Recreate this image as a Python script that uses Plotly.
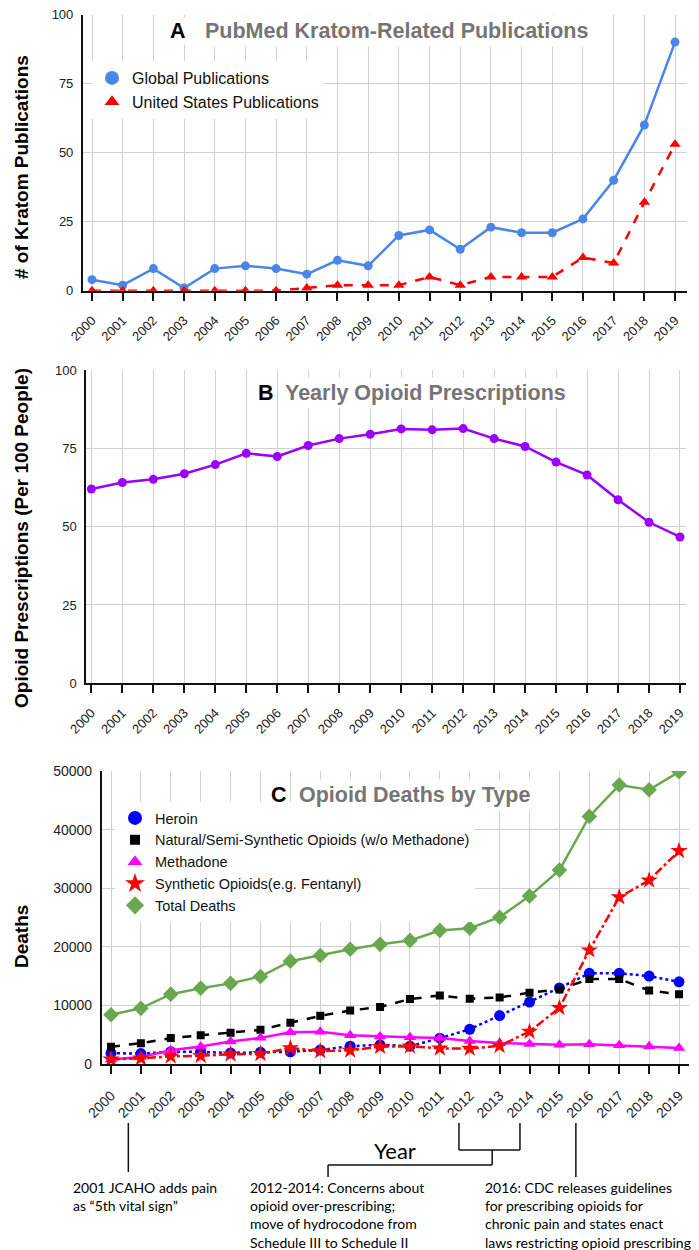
import plotly.graph_objects as go

# --- data ---
years = list(range(2000, 2020))
year_labels = [str(y) for y in years]

# A: PubMed kratom publications
global_pubs = [4, 2, 8, 1, 8, 9, 8, 6, 11, 9, 20, 22, 15, 23, 21, 21, 26, 40, 60, 90]
us_pubs = [0, 0, 0, 0, 0, 0, 0, 1, 2, 2, 2, 5, 2, 5, 5, 5, 12, 10, 32, 53]

# B: opioid prescriptions per 100 people
rx_rate = [62.0, 64.1, 65.1, 66.9, 69.8, 73.4, 72.4, 75.9, 78.1, 79.5,
           81.2, 80.9, 81.3, 78.1, 75.6, 70.6, 66.5, 58.6, 51.4, 46.7]

# C: opioid deaths by type
heroin = [1840, 1780, 2090, 2080, 1880, 2010, 2090, 2400, 3040, 3280,
          3040, 4400, 5930, 8260, 10570, 12990, 15470, 15480, 15000, 14020]
natural = [2950, 3550, 4420, 4900, 5340, 5840, 7040, 8220, 9120, 9740,
           11090, 11690, 11140, 11350, 12160, 12730, 14490, 14500, 12550, 11890]
methadone = [780, 1190, 2360, 2970, 3850, 4460, 5410, 5520, 4920, 4700,
             4580, 4420, 3930, 3590, 3400, 3300, 3370, 3190, 3020, 2740]
synthetic = [780, 960, 1300, 1400, 1660, 1740, 2710, 2210, 2310, 2950,
             3010, 2670, 2630, 3110, 5540, 9580, 19410, 28470, 31340, 36360]
total = [8410, 9500, 11920, 12940, 13760, 14920, 17550, 18520, 19580, 20420,
         21090, 22780, 23170, 25050, 28650, 33090, 42250, 47600, 46800, 49860]

# page body has an 8px margin, so the figure is a bit smaller than the window
OFF = 8
W, H = 699 - OFF, 1250 - OFF
FONT = "Liberation Sans, Arial, sans-serif"
NOTE_FONT = "Lato, Open Sans, sans-serif"
GRID = '#d0d0d0'


def px(x):
    # window pixel -> paper x
    return (x - OFF) / W


def py(y):
    # window pixel -> paper y
    return 1 - (y - OFF) / H


fig = go.Figure()

# --- A ---
fig.add_trace(go.Scatter(x=years, y=global_pubs, mode='lines+markers', showlegend=False,
                         line=dict(color='#4a86e8', width=2.5),
                         marker=dict(color='#4a86e8', size=9), xaxis='x', yaxis='y'))
fig.add_trace(go.Scatter(x=years, y=us_pubs, mode='lines+markers', showlegend=False,
                         line=dict(color='#ff0000', width=2.5, dash='dash'),
                         marker=dict(color='#ff0000', size=10, symbol='triangle-up'),
                         xaxis='x', yaxis='y'))
# legend-only entries (markers without line)
fig.add_trace(go.Scatter(x=[None], y=[None], mode='markers', name='Global Publications',
                         marker=dict(color='#4a86e8', size=14), legend='legend',
                         xaxis='x', yaxis='y'))
fig.add_trace(go.Scatter(x=[None], y=[None], mode='markers', name='United States Publications',
                         marker=dict(color='#ff0000', size=13, symbol='triangle-up'),
                         legend='legend', xaxis='x', yaxis='y'))

# --- B ---
fig.add_trace(go.Scatter(x=years, y=rx_rate, mode='lines+markers', showlegend=False,
                         line=dict(color='#9900ff', width=2.5),
                         marker=dict(color='#9900ff', size=9), xaxis='x2', yaxis='y2'))

# --- C ---
c_series = [
    ('Heroin', heroin, '#0000ff', 'dot', 'circle', 11, 14),
    ('Natural/Semi-Synthetic Opioids (w/o Methadone)', natural, '#000000', 'dash', 'square', 8, 10),
    ('Methadone', methadone, '#ff00ff', 'solid', 'triangle-up', 11, 13),
    ('Synthetic Opioids(e.g. Fentanyl)', synthetic, '#ff0000', 'dashdot', 'star', 13, 15),
    ('Total Deaths', total, '#6aa84f', 'solid', 'diamond', 12, 14),
]
for name, vals, col, dash, sym, size, lsize in c_series:
    fig.add_trace(go.Scatter(x=years, y=vals, mode='lines+markers', showlegend=False,
                             line=dict(color=col, width=2.5, dash=dash),
                             marker=dict(color=col, size=size, symbol=sym),
                             xaxis='x3', yaxis='y3'))
for name, vals, col, dash, sym, size, lsize in c_series:
    fig.add_trace(go.Scatter(x=[None], y=[None], mode='markers', name=name,
                             marker=dict(color=col, size=lsize, symbol=sym),
                             legend='legend2', xaxis='x3', yaxis='y3'))


def xaxis(dom, rng, anchor, fs=13, standoff=7):
    return dict(domain=dom, range=rng, anchor=anchor, tickmode='array', automargin=False,
                tickvals=years, ticktext=year_labels, tickangle=-45,
                tickfont=dict(family=FONT, size=fs, color='#222'),
                ticklabelstandoff=standoff,
                showgrid=True, gridcolor=GRID, gridwidth=1, zeroline=False,
                showline=True, linecolor='#111', linewidth=2,
                ticks='outside', ticklen=8, tickwidth=1.5, tickcolor='#111')


def yaxis(dom, rng, dtick, anchor, fs=13):
    return dict(domain=dom, range=rng, anchor=anchor, dtick=dtick, tickformat='d',
                automargin=False, ticklabeloverflow='allow',
                tickfont=dict(family=FONT, size=fs, color='#222'),
                showgrid=True, gridcolor=GRID, gridwidth=1, zeroline=False,
                showline=True, linecolor='#111', linewidth=1.5, ticks='',
                ticklabelstandoff=5)


annotations = []


def panel_title(letter, text, lx, tx, yc):
    annotations.append(dict(text='<b>%s</b>' % letter, x=px(lx), y=py(yc), xref='paper', yref='paper',
                            xanchor='center', yanchor='middle', showarrow=False, bgcolor='white',
                            font=dict(family=FONT, size=21.5, color='#000')))
    annotations.append(dict(text='<b>%s</b>' % text, x=px(tx), y=py(yc), xref='paper', yref='paper',
                            xanchor='left', yanchor='middle', showarrow=False, bgcolor='white',
                            borderpad=3, font=dict(family=FONT, size=21.5, color='#757575')))


def y_title(text, yc):
    annotations.append(dict(text='<b>%s</b>' % text, x=px(21), y=py(yc), xref='paper', yref='paper',
                            xanchor='center', yanchor='middle', showarrow=False, textangle=-90,
                            font=dict(family=FONT, size=19, color='#000')))


panel_title('A', 'PubMed Kratom-Related Publications', 178, 201, 31)
panel_title('B', 'Yearly Opioid Prescriptions', 266, 281, 393)
panel_title('C', 'Opioid Deaths by Type', 279, 295, 795)
y_title('# of Kratom Publications', 167)
y_title('Opioid Prescriptions (Per 100 People)', 538)
y_title('Deaths', 937)

# bottom notes
annotations.append(dict(text='Year', x=px(395), y=py(1150), xref='paper', yref='paper',
                        xanchor='center', yanchor='middle', showarrow=False,
                        font=dict(family=NOTE_FONT, size=22, color='#000')))
notes = [
    (71, '2001 JCAHO adds pain<br>as \u201c5th vital sign\u201d'),
    (248, '2012-2014: Concerns about<br>opioid over-prescribing;<br>move of hydrocodone from<br>Schedule III to Schedule II'),
    (483, '2016: CDC releases guidelines<br>for prescribing opioids for<br>chronic pain and states enact<br>laws restricting opioid prescribing'),
]
for nx, txt in notes:
    annotations.append(dict(text=txt, x=px(nx), y=py(1177), xref='paper', yref='paper',
                            xanchor='left', yanchor='top', align='left', showarrow=False,
                            font=dict(family=NOTE_FONT, size=14, color='#000')))

# connector lines under panel C (x in year units of the C axis)
line_style = dict(color='#111', width=1.5)
shapes = []


def seg(x0, y0, x1, y1):
    shapes.append(dict(type='line', xref='x3', yref='paper', x0=x0, x1=x1,
                       y0=py(y0), y1=py(y1), line=line_style))


seg(2000.58, 1123, 2000.58, 1172)
seg(2011.64, 1123, 2011.64, 1150)
seg(2013.68, 1123, 2013.68, 1150)
seg(2011.64, 1150, 2013.68, 1150)
seg(2012.75, 1150, 2012.75, 1165)
seg(2007.26, 1165, 2012.75, 1165)
seg(2007.26, 1165, 2007.26, 1177)
seg(2015.55, 1123, 2015.55, 1177)

fig.update_layout(
    template='none',
    width=W, height=H,
    margin=dict(l=0, r=0, t=0, b=0, autoexpand=False),
    paper_bgcolor='white', plot_bgcolor='white',
    font=dict(family=FONT, color='#222'),
    xaxis=xaxis([px(82.7), px(687)], [1999.697, 2019.39], 'y'),
    yaxis=yaxis([py(290.7), py(14.5)], [0, 100], 25, 'x'),
    xaxis2=xaxis([px(86), px(686)], [1999.826, 2019.194], 'y2'),
    yaxis2=yaxis([py(683.3), py(370)], [0, 100], 25, 'x2'),
    xaxis3=xaxis([px(101.7), px(689)], [1999.689, 2019.334], 'y3', fs=14, standoff=8),
    yaxis3=yaxis([py(1064), py(771)], [0, 50000], 10000, 'x3', fs=14),
    legend=dict(x=px(92), y=py(61), xanchor='left', yanchor='top', bgcolor='white',
                font=dict(family=FONT, size=16, color='#111'),
                itemsizing='trace', borderwidth=0),
    legend2=dict(x=px(115), y=py(802), xanchor='left', yanchor='top', bgcolor='white',
                 font=dict(family=FONT, size=14.5, color='#111'), itemsizing='trace',
                 borderwidth=0),
    annotations=annotations,
    shapes=shapes,
)

fig.write_html("out.html")
